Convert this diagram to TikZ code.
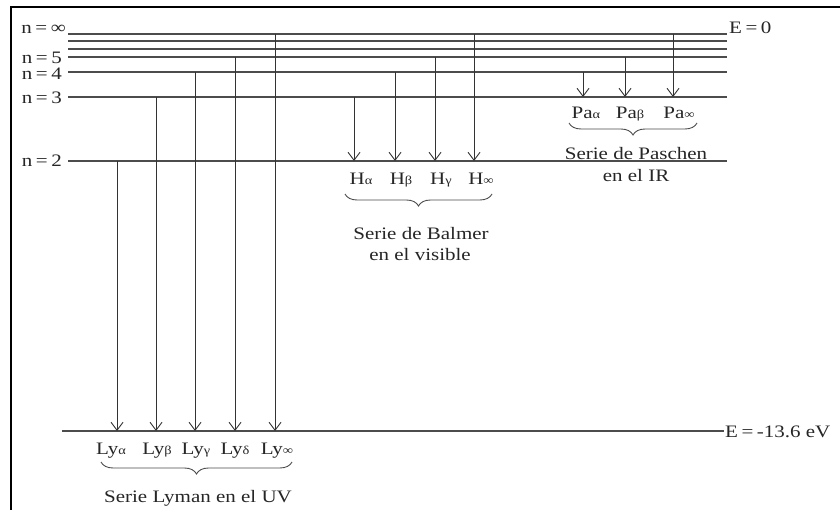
\documentclass[tikz,border=0pt]{standalone}
\usepackage{fontspec}
\setmainfont{Liberation Serif}
\usepackage{graphicx}
\usetikzlibrary{arrows.meta,decorations.pathreplacing}
\newcommand{\tx}[1]{\scalebox{1.2}[1]{#1}}
\newcommand{\gk}[1]{{\fontsize{12}{13}\selectfont #1}}
\begin{document}
\begin{tikzpicture}[x=1pt,y=-1pt,
  frame/.style={draw=black,line width=1.6pt},
  level/.style={draw=black!70,line width=1.3pt},
  trans/.style={draw=black!80,line width=0.9pt,-{Straight Barb[length=8pt,width=12pt]}},
  lbl/.style={font=\fontsize{17.5}{20}\selectfont,inner sep=0pt,text=black!85},
  nlbl/.style={lbl,text depth=0pt,text height=11pt,anchor=base east},
  brc/.style={decorate,decoration={brace,mirror,amplitude=12pt},draw=black!70,line width=0.9pt}]
\useasboundingbox (0,0) rectangle (840,510);
\fill[white] (0,0) rectangle (840,510);
% frame
\coordinate (fTL) at (11,7); \coordinate (fTR) at (840,7); \coordinate (fBL) at (11,510);
\draw[frame] (fTR) -- (fTL) -- (fBL);
% levels
\foreach \nm/\y in {inf/34, six/41, sev/49, five/57, four/72, three/97, two/161} {
  \coordinate (L\nm) at (68,\y); \coordinate (R\nm) at (727,\y);
  \draw[level] (L\nm) -- (R\nm);
}
\coordinate (Lone) at (62,431); \coordinate (Rone) at (724,431);
\draw[level] (Lone) -- (Rone);
% level labels
\node[nlbl] (ninf) at (66,34) {\tx{n\,=\,∞}};
\node[nlbl] (n5) at (62,64) {\tx{n\,=\,5}};
\node[nlbl] (n4) at (62,80) {\tx{n\,=\,4}};
\node[nlbl] (n3) at (62,104) {\tx{n\,=\,3}};
\node[nlbl] (n2) at (62,167) {\tx{n\,=\,2}};
\node[lbl,anchor=base west] (e0) at (729,34) {\tx{E\,=\,0}};
\node[lbl,anchor=base west] (e1) at (725,437) {\tx{E\,=\,-13.6 eV}};
% Lyman
\foreach \i/\x/\y in {1/117/161, 2/156/97, 3/195/72, 4/235/57, 5/275/34} {
  \coordinate (lys\i) at (\x,\y); \coordinate (lye\i) at (\x,431);
  \draw[trans] (lys\i) -- (lye\i);
}
\node[lbl,anchor=base] (ly1) at (111,454) {\tx{Ly\gk{α}}};
\node[lbl,anchor=base] (ly2) at (157,454) {\tx{Ly\gk{β}}};
\node[lbl,anchor=base] (ly3) at (196,454) {\tx{Ly\gk{γ}}};
\node[lbl,anchor=base] (ly4) at (235,454) {\tx{Ly\gk{δ}}};
\node[lbl,anchor=base] (ly5) at (277,454) {\tx{Ly\gk{∞}}};
\coordinate (lyb1) at (101,462); \coordinate (lyb2) at (292,462);
\draw[brc] (lyb1) -- (lyb2);
\node[lbl,anchor=base] (lyt) at (198,502) {\tx{Serie Lyman en el UV}};
% Balmer
\foreach \i/\x/\y in {1/354/97, 2/395/72, 3/435/57, 4/474/34} {
  \coordinate (hs\i) at (\x,\y); \coordinate (he\i) at (\x,161);
  \draw[trans] (hs\i) -- (he\i);
}
\node[lbl,anchor=base] (h1) at (361,185) {\tx{H\gk{α}}};
\node[lbl,anchor=base] (h2) at (401,185) {\tx{H\gk{β}}};
\node[lbl,anchor=base] (h3) at (441,185) {\tx{H\gk{γ}}};
\node[lbl,anchor=base] (h4) at (481,185) {\tx{H\gk{∞}}};
\coordinate (hb1) at (345,194); \coordinate (hb2) at (492,194);
\draw[brc] (hb1) -- (hb2);
\node[lbl,anchor=base] (ht1) at (421,240) {\tx{Serie de Balmer}};
\node[lbl,anchor=base] (ht2) at (420,261) {\tx{en el visible}};
% Paschen
\foreach \i/\x/\y in {1/583/72, 2/625/57, 3/673/34} {
  \coordinate (ps\i) at (\x,\y); \coordinate (pe\i) at (\x,97);
  \draw[trans] (ps\i) -- (pe\i);
}
\node[lbl,anchor=base] (p1) at (586,119) {\tx{Pa\gk{α}}};
\node[lbl,anchor=base] (p2) at (630,119) {\tx{Pa\gk{β}}};
\node[lbl,anchor=base] (p3) at (679,119) {\tx{Pa\gk{∞}}};
\coordinate (pb1) at (569,123); \coordinate (pb2) at (697,123);
\draw[brc] (pb1) -- (pb2);
\node[lbl,anchor=base] (pt1) at (636,160) {\tx{Serie de Paschen}};
\node[lbl,anchor=base] (pt2) at (636,182) {\tx{en el IR}};
\end{tikzpicture}
\end{document}
